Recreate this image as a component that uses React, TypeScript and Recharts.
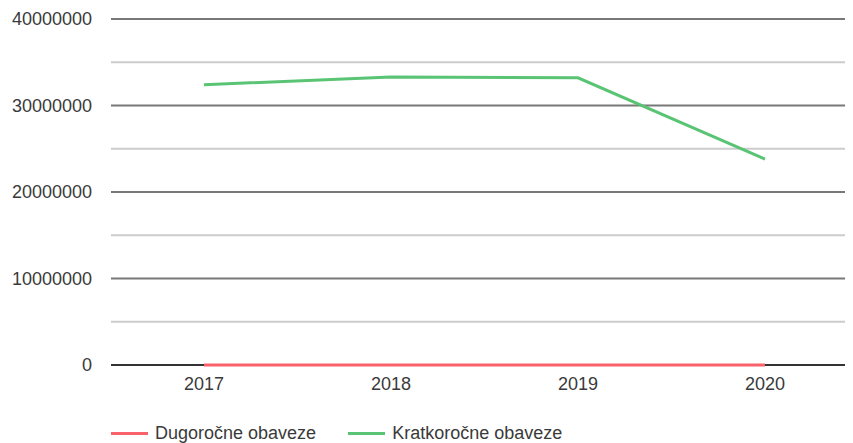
import { LineChart, Line, XAxis, YAxis, ReferenceLine, Legend } from "recharts";

const years = ["2017", "2018", "2019", "2020"];
const dugorocne = [0, 0, 0, 0];
const kratkorocne = [32400000, 33300000, 33200000, 23800000];
const yTicks = [0, 5000000, 10000000, 15000000, 20000000, 25000000, 30000000, 35000000, 40000000];

const seriesInfo = [
  { key: "dug", name: "Dugoročne obaveze", color: "#f9626b" },
  { key: "krat", name: "Kratkoročne obaveze", color: "#5ac475" },
];

const data = years.map((y, i) => ({ year: y, dug: dugorocne[i], krat: kratkorocne[i] }));

const FONT = "'Liberation Sans', Arial, Helvetica, sans-serif";

const YTick = ({ x, y, payload }: { x?: number; y?: number; payload?: { value: number } }) => {
  if (!payload || payload.value % 10000000 !== 0) return null;
  return (
    <text x={x} y={y} dy={6} textAnchor="end" fill="#3a3a3a" fontSize={18} fontFamily={FONT}>
      {payload.value}
    </text>
  );
};

const LegendContent = () => (
  <div style={{ display: "flex", paddingLeft: 103, height: 20, alignItems: "center", fontFamily: FONT, fontSize: 18, color: "#3a3a3a" }}>
    {seriesInfo.map((s) => (
      <div key={s.key} style={{ display: "flex", alignItems: "center", marginRight: 32 }}>
        <span style={{ display: "inline-block", width: 37, height: 3, background: s.color, marginRight: 7 }} />
        <span style={{ lineHeight: "20px" }}>{s.name}</span>
      </div>
    ))}
  </div>
);

export default function App() {
  return (
    <div style={{ width: 845, height: 435, overflow: "hidden" }}>
      <LineChart width={850} height={435} data={data} margin={{ top: 11, right: 0, bottom: 0, left: 0 }}>
        {yTicks.map((t) => (
          <ReferenceLine
            key={t}
            y={t}
            stroke={t === 0 ? "#333333" : t % 10000000 === 0 ? "#787878" : "#cccccc"}
            strokeWidth={2}
          />
        ))}
        <XAxis
          dataKey="year"
          axisLine={false}
          tickLine={false}
          tickSize={0}
          tickMargin={12}
          height={58}
          padding={{ left: 93, right: 93 }}
          tick={{ fill: "#3a3a3a", fontSize: 18, fontFamily: FONT }}
        />
        <YAxis
          domain={[0, 40000000]}
          ticks={yTicks}
          axisLine={false}
          tickLine={false}
          tickSize={0}
          tickMargin={19}
          width={103}
          tick={<YTick />}
        />
        <Legend verticalAlign="bottom" content={<LegendContent />} wrapperStyle={{ left: 0, width: "100%" }} />
        {seriesInfo.map((s) => (
          <Line
            key={s.key}
            dataKey={s.key}
            name={s.name}
            stroke={s.color}
            strokeWidth={3}
            dot={false}
            type="linear"
            isAnimationActive={false}
          />
        ))}
      </LineChart>
    </div>
  );
}
